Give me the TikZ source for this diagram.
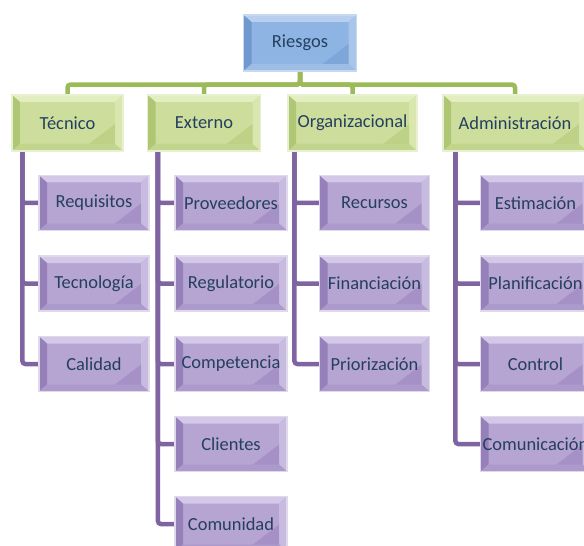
\documentclass[tikz,border=0pt]{standalone}
\usepackage{fontspec}
\setmainfont{Carlito}
\usetikzlibrary{calc,backgrounds}

\definecolor{txtblue}{HTML}{243F60}
\definecolor{greenline}{HTML}{9BBB59}
\definecolor{purpleline}{HTML}{8064A2}
% blue
\definecolor{bface}{HTML}{8DB4E2}
\definecolor{btop}{HTML}{B8D0EE}
\definecolor{bleft}{HTML}{7099D0}
\definecolor{bright}{HTML}{A9C6EA}
\definecolor{bbot}{HTML}{9EBDE6}
\definecolor{bedge}{HTML}{C6D9F1}
% green
\definecolor{gface}{HTML}{CCDD9C}
\definecolor{gtop}{HTML}{E2EDC0}
\definecolor{gleft}{HTML}{AFC674}
\definecolor{gright}{HTML}{D9E7AE}
\definecolor{gbot}{HTML}{C2D58C}
\definecolor{gedge}{HTML}{E8F0D2}
% purple
\definecolor{pface}{HTML}{B6A4D2}
\definecolor{ptop}{HTML}{D3C8E7}
\definecolor{pleft}{HTML}{9680BA}
\definecolor{pright}{HTML}{C8BBE0}
\definecolor{pbot}{HTML}{AD9ACC}
\definecolor{pedge}{HTML}{E0D9EC}

\tikzset{
  bevel/.style n args={5}{path picture={
    \coordinate (a) at (path picture bounding box.north west);
    \coordinate (b) at (path picture bounding box.north east);
    \coordinate (c) at (path picture bounding box.south east);
    \coordinate (d) at (path picture bounding box.south west);
    \coordinate (a1) at ($(a)+(8bp,-7bp)$);
    \coordinate (b1) at ($(b)+(-8bp,-7bp)$);
    \coordinate (c1) at ($(c)+(-8bp,7bp)$);
    \coordinate (d1) at ($(d)+(8bp,7bp)$);
    \fill[#1] (a) rectangle (c);
    \fill[#2] (a) -- (b) -- (b1) -- (a1) -- cycle;
    \fill[#3] (a) -- (a1) -- (d1) -- (d) -- cycle;
    \fill[#4] (b) -- (c) -- (c1) -- (b1) -- cycle;
    \fill[#5] (d) -- (d1) -- (c1) -- (c) -- cycle;
    \fill[#3,opacity=.5] (c1) -- ++(-26bp,0) -- ++(26bp,20bp) -- cycle;
  }},
  box/.style={rectangle, inner sep=0pt, text=txtblue,
    font=\fontsize{18.5}{21}\selectfont, line width=1.2bp},
  rootbox/.style={box, minimum height=56bp, draw=bedge,
    bevel={bface}{btop}{bleft}{bright}{bbot}},
  areabox/.style={box, minimum height=56bp, draw=gedge,
    bevel={gface}{gtop}{gleft}{gright}{gbot}},
  itembox/.style={box, minimum height=55bp, minimum width=110bp, draw=pedge,
    bevel={pface}{ptop}{pleft}{pright}{pbot}},
  greenbar/.style={draw=greenline, line width=4.5bp, rounded corners=3bp},
  purplebar/.style={draw=purpleline, line width=4.5bp, rounded corners=3bp}
}

\begin{document}
\begin{tikzpicture}[x=1bp,y=-1bp]
\useasboundingbox (0,0) rectangle (584,546);

% top level
\node[rootbox, minimum width=113bp] (riesgos) at (300,43) {Riesgos};

\node[areabox, minimum width=111bp] (tecnico) at (67.5,123) {Técnico};
\node[areabox, minimum width=113bp] (externo) at (204,123) {Externo};
\node[areabox, minimum width=129bp] (organiz) at (352.5,123) {Organizacional};
\node[areabox, minimum width=144bp] (admin) at (515,123) {Administración};

% Tecnico
\node[itembox] (requisitos) at (94,203) {Requisitos};
\node[itembox] (tecnologia) at (94,283.5) {Tecnología};
\node[itembox] (calidad) at (94,364) {Calidad};

% Externo
\node[itembox, minimum width=112bp] (proveedores) at (231,203) {Proveedores};
\node[itembox, minimum width=112bp] (regulatorio) at (231,283.5) {Regulatorio};
\node[itembox, minimum width=112bp] (competencia) at (231,364) {Competencia};
\node[itembox, minimum width=112bp] (clientes) at (231,444) {Clientes};
\node[itembox, minimum width=112bp] (comunidad) at (231,524) {Comunidad};

% Organizacional
\node[itembox] (recursos) at (374.5,203) {Recursos};
\node[itembox] (financiacion) at (374.5,283.5) {Financiación};
\node[itembox] (priorizacion) at (374.5,364) {Priorización};

% Administracion
\node[itembox] (estimacion) at (535.5,203) {Estimación};
\node[itembox] (planificacion) at (535.5,283.5) {Planificación};
\node[itembox] (control) at (535.5,364) {Control};
\node[itembox] (comunicacion) at (535.5,444) {Comunicación};

\begin{scope}[on background layer]
\foreach \area in {tecnico,externo,organiz,admin}
  \draw[greenbar] (riesgos.south) -- ++(0,13) -| (\area.north);

\foreach \item in {requisitos,tecnologia,calidad}
  \draw[purplebar] ([xshift=11bp]tecnico.south west) |- (\item.west);
\foreach \item in {proveedores,regulatorio,competencia,clientes,comunidad}
  \draw[purplebar] ([xshift=11bp]externo.south west) |- (\item.west);
\foreach \item in {recursos,financiacion,priorizacion}
  \draw[purplebar] ([xshift=7bp]organiz.south west) |- (\item.west);
\foreach \item in {estimacion,planificacion,control,comunicacion}
  \draw[purplebar] ([xshift=13bp]admin.south west) |- (\item.west);
\end{scope}
\end{tikzpicture}
\end{document}
